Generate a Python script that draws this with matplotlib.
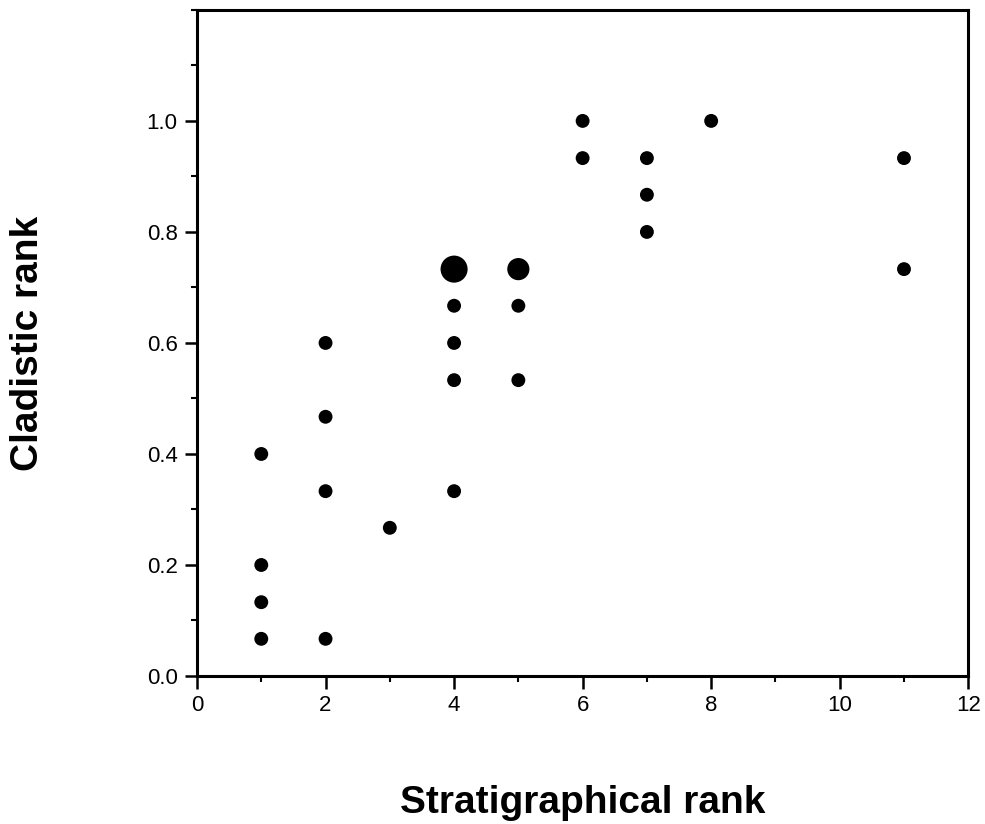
import matplotlib
matplotlib.use("Agg")
import matplotlib.pyplot as plt
from matplotlib.ticker import MultipleLocator

plt.rcParams['font.family'] = ['Liberation Sans', 'DejaVu Sans']

# Data (stratigraphical rank, cladistic rank, marker size class)
strat = [1, 1, 1, 1,
         2, 2, 2, 2,
         3,
         4, 4, 4, 4, 4,
         5, 5, 5,
         6, 6,
         7, 7, 7,
         8,
         11, 11]
clad = [0.400, 0.200, 0.133, 0.067,
        0.600, 0.467, 0.333, 0.067,
        0.267,
        0.733, 0.667, 0.600, 0.533, 0.333,
        0.733, 0.667, 0.533,
        1.000, 0.933,
        0.933, 0.867, 0.800,
        1.000,
        0.933, 0.733]
sizes = [100, 100, 100, 100,
         100, 100, 100, 100,
         100,
         380, 100, 100, 100, 100,
         255, 100, 100,
         100, 100,
         100, 100, 100,
         100,
         100, 100]

xticks = [0, 2, 4, 6, 8, 10, 12]
yticks = [0.0, 0.2, 0.4, 0.6, 0.8, 1.0]
ytick_labels = ["0.0", "0.2", "0.4", "0.6", "0.8", "1.0"]

fig = plt.figure(figsize=(9.85, 8.24), dpi=100)
ax = fig.add_axes([0.200, 0.1796, 0.783, 0.8084])

ax.scatter(strat, clad, s=sizes, c='black', edgecolors='none', zorder=3)

ax.set_xlim(0, 12)
ax.set_ylim(0, 1.2)
ax.set_xticks(xticks)
ax.set_xticklabels([str(t) for t in xticks])
ax.set_yticks(yticks)
ax.set_yticklabels(ytick_labels)
ax.xaxis.set_minor_locator(MultipleLocator(1))
ax.yaxis.set_minor_locator(MultipleLocator(0.1))

for s in ax.spines.values():
    s.set_linewidth(2.2)

ax.tick_params(which='major', direction='out', length=9, width=1.8,
               labelsize=16, pad=5)
ax.tick_params(which='minor', direction='out', length=4.5, width=1.5)

ax.set_xlabel("Stratigraphical rank", fontsize=28, fontweight='bold')
ax.set_ylabel("Cladistic rank", fontsize=28, fontweight='bold')
ax.xaxis.set_label_coords(0.5, -0.163)
ax.yaxis.set_label_coords(-0.196, 0.5)

fig.savefig("out.png", dpi=100)
